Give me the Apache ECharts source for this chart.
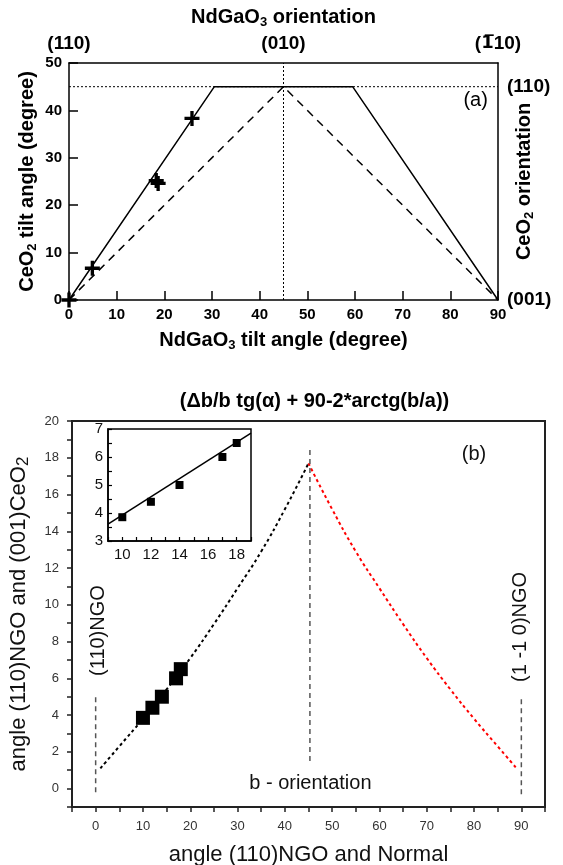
<!DOCTYPE html>
<html lang="en">
<head>
<meta charset="utf-8">
<title>NdGaO3 / CeO2 tilt angles</title>
<script src="https://cdn.jsdelivr.net/npm/echarts@6/dist/echarts.min.js"></script>
</head>
<body style="margin:0; background:#fff;">
<div id="main" style="width:563px; height:865px;"></div>
<script type="text/javascript">
// ---- panel (a) ----
const tiltSolid = [[0, 0], [30.5, 45], [59.5, 45], [90, 0]];
const tiltDashed = [[0, 0], [45, 45], [90, 0]];
const tiltLevel = [[0, 45], [90, 45]];
const tiltMid = [[45, 0], [45, 50]];
const crossX = [0, 4.9, 18.3, 18.7, 25.8];
const crossY = [0, 6.7, 25.2, 24.6, 38.3];
const topLabels = {0: '(110)', 45: '(010)', 90: '({bar|1\u0305}10)'};
const rightLabels = {0: '(001)', 45: '(110)'};

// ---- panel (b) ----
const leftX = [1, 5, 10, 15, 20, 25, 30, 35, 40, 45];
const leftY = [1.1, 2.3, 3.8, 5.4, 7.1, 8.95, 10.9, 12.9, 15.2, 17.7];
const rightX = [45, 50, 55, 60, 65, 70, 75, 80, 85, 89];
const rightY = [17.7, 15.2, 12.9, 10.9, 8.95, 7.1, 5.4, 3.8, 2.3, 1.1];
const sampleX = [10, 12, 14, 17, 18];
const sampleY = [3.85, 4.4, 5.0, 6.0, 6.5];
const fitLine = [[9, 3.6], [19, 6.85]];
const guides = [
    [[0, -0.2], [0, 5]],
    [[45.3, 1.5], [45.3, 18.6]],
    [[90, -0.3], [90, 4.9]]
];
const notesB = [
    {x: 0.5, y: 8.6, text: '(110)NGO', rotate: 90},
    {x: 89.9, y: 8.8, text: '(1 -1 0)NGO', rotate: 90},
    {x: 45.4, y: 0.3, text: 'b - orientation', rotate: 0},
    {x: 80, y: 18.2, text: '(b)', rotate: 0}
];

const AR = '"Liberation Sans", Arial, sans-serif';
const pair = (xs, ys) => xs.map((x, i) => [x, ys[i]]);
const plus = 'path://M3.5,0H5.5V3.5H9V5.5H5.5V9H3.5V5.5H0V3.5H3.5Z';

function line(data, xi, yi, color, width, type, smooth) {
    return {
        type: 'line', xAxisIndex: xi, yAxisIndex: yi, data: data,
        symbol: 'none', smooth: smooth || false, silent: true,
        lineStyle: {color: color, width: width, type: type}
    };
}

const boldName = {fontFamily: AR, fontWeight: 'bold', fontSize: 20, color: '#000', lineHeight: 24,
    rich: {s: {fontFamily: AR, fontWeight: 'bold', fontSize: 13, verticalAlign: 'bottom', lineHeight: 12, color: '#000'}}};
const boldTick = {fontFamily: AR, fontWeight: 'bold', fontSize: 15, color: '#000'};
const blkLine = {onZero: false, lineStyle: {color: '#000', width: 1.5}};
const solidItem = {color: '#000', opacity: 1};

let myChart = echarts.init(document.getElementById('main'));
const option = {
    animation: false,
    backgroundColor: '#fff',
    grid: [
        {left: 69, top: 63, width: 429, height: 237, outerBoundsMode: 'none'},
        {left: 72, top: 421, width: 473, height: 386, show: true, borderColor: '#222', borderWidth: 2, outerBoundsMode: 'none'},
        {left: 108, top: 429, width: 143, height: 112, show: true, borderColor: '#000', borderWidth: 1.5, outerBoundsMode: 'none'}
    ],
    xAxis: [
        {gridIndex: 0, type: 'value', min: 0, max: 90, interval: 10, position: 'bottom',
            axisLine: blkLine, axisTick: {inside: true, length: 9, lineStyle: {color: '#000', width: 1.5}},
            axisLabel: Object.assign({margin: 7}, boldTick), splitLine: {show: false},
            name: 'NdGaO{s|3} tilt angle (degree)', nameLocation: 'middle', nameGap: 28,
            nameMoveOverlap: false, nameTextStyle: boldName},
        {gridIndex: 0, type: 'value', min: 0, max: 90, interval: 45, position: 'top',
            axisLine: blkLine, axisTick: {show: false}, splitLine: {show: false},
            axisLabel: Object.assign({margin: 10, formatter: v => topLabels[v] || ''}, boldTick, {fontSize: 19,
                rich: {bar: {fontFamily: '"DejaVu Sans"', fontWeight: 'bold', fontSize: 18, color: '#000'}}}),
            name: 'NdGaO{s|3} orientation', nameLocation: 'middle', nameGap: 34,
            nameMoveOverlap: false, nameTextStyle: boldName},
        {gridIndex: 1, type: 'value', min: -5, max: 95, interval: 5,
            axisLine: {onZero: false, lineStyle: {color: '#222', width: 2}},
            axisTick: {length: 5, lineStyle: {color: '#222', width: 1.5}}, splitLine: {show: false},
            axisLabel: {fontFamily: AR, fontSize: 13, color: '#333', margin: 13,
                formatter: v => (v >= 0 && v % 10 === 0) ? String(v) : ''},
            name: 'angle (110)NGO and Normal', nameLocation: 'middle', nameGap: 37, nameMoveOverlap: false,
            nameTextStyle: {fontFamily: AR, fontSize: 22, color: '#111'}},
        {gridIndex: 1, type: 'value', min: -5, max: 95, position: 'top',
            axisLine: {show: false}, axisTick: {show: false}, axisLabel: {show: false}, splitLine: {show: false},
            name: '(\u0394b/b tg(\u03b1) + 90-2*arctg(b/a))', nameLocation: 'middle', nameGap: 10, nameMoveOverlap: false,
            nameTextStyle: {fontFamily: AR, fontWeight: 'bold', fontSize: 20, color: '#000', padding: [0, 0, 0, 12]}},
        {gridIndex: 2, type: 'value', min: 9, max: 19, interval: 1,
            axisLine: blkLine, axisTick: {inside: true, length: 4, lineStyle: {color: '#000', width: 1.2}},
            splitLine: {show: false},
            axisLabel: {fontFamily: AR, fontSize: 15, color: '#111', margin: 6,
                formatter: v => (v % 2 === 0) ? String(v) : ''}}
    ],
    yAxis: [
        {gridIndex: 0, type: 'value', min: 0, max: 50, interval: 10, position: 'left',
            axisLine: blkLine, axisTick: {inside: true, length: 9, lineStyle: {color: '#000', width: 1.5}},
            axisLabel: Object.assign({margin: 7}, boldTick), splitLine: {show: false},
            name: 'CeO{s|2} tilt angle (degree)', nameLocation: 'middle', nameGap: 30,
            nameMoveOverlap: false, nameTextStyle: boldName},
        {gridIndex: 0, type: 'value', min: 0, max: 50, interval: 45, position: 'right',
            axisLine: blkLine, axisTick: {show: false}, splitLine: {show: false},
            axisLabel: Object.assign({margin: 9, formatter: v => rightLabels[v] || ''}, boldTick, {fontSize: 19}),
            name: 'CeO{s|2} orientation', nameLocation: 'middle', nameGap: 14,
            nameMoveOverlap: false, nameTextStyle: boldName},
        {gridIndex: 1, type: 'value', min: -1, max: 20, interval: 1,
            axisLine: {onZero: false, lineStyle: {color: '#222', width: 2}},
            axisTick: {length: 5, lineStyle: {color: '#222', width: 1.5}}, splitLine: {show: false},
            axisLabel: {fontFamily: AR, fontSize: 13, color: '#333', margin: 13,
                formatter: v => (v >= 0 && v % 2 === 0) ? String(v) : ''},
            name: 'angle (110)NGO and (001)CeO{s|2}', nameLocation: 'middle', nameGap: 40, nameMoveOverlap: false,
            nameTextStyle: {fontFamily: AR, fontSize: 22, color: '#111', lineHeight: 26,
                rich: {s: {fontFamily: AR, fontSize: 17, color: '#111', verticalAlign: 'bottom', lineHeight: 20}}}},
        {gridIndex: 2, type: 'value', min: 3, max: 7, interval: 0.5,
            axisLine: blkLine, axisTick: {inside: true, length: 4, lineStyle: {color: '#000', width: 1.2}},
            splitLine: {show: false},
            axisLabel: {fontFamily: AR, fontSize: 15, color: '#111', margin: 5,
                formatter: v => Number.isInteger(v) ? String(v) : ''}}
    ],
    series: [
        line(tiltLevel, 0, 0, '#000', 1, [2, 2]),
        line(tiltMid, 0, 0, '#000', 1, [2, 2]),
        line(tiltDashed, 0, 0, '#000', 1.5, [8, 6]),
        line(tiltSolid, 0, 0, '#000', 1.5, 'solid'),
        {type: 'scatter', xAxisIndex: 0, yAxisIndex: 0, data: pair(crossX, crossY),
            symbol: plus, symbolSize: 15, itemStyle: solidItem, silent: true, z: 5},
        {type: 'scatter', xAxisIndex: 0, yAxisIndex: 0, data: [[85.3, 42.1]], symbolSize: 1,
            itemStyle: {color: 'rgba(0,0,0,0)', opacity: 1}, silent: true,
            label: {show: true, position: 'inside', formatter: '(a)', fontFamily: AR, fontSize: 20, color: '#000'}},

        line(pair(leftX, leftY), 2, 2, '#000', 2, [3, 3], true),
        line(pair(rightX, rightY), 2, 2, '#ff0000', 2, [3, 3], true),
        ...guides.map(g => line(g, 2, 2, '#555', 1.5, [5, 4])),
        {type: 'scatter', xAxisIndex: 2, yAxisIndex: 2, data: pair(sampleX, sampleY),
            symbol: 'rect', symbolSize: 14, itemStyle: solidItem, silent: true, z: 5},
        {type: 'scatter', xAxisIndex: 2, yAxisIndex: 2, symbolSize: 1,
            itemStyle: {color: 'rgba(0,0,0,0)', opacity: 1}, silent: true,
            data: notesB.map(n => ({value: [n.x, n.y], label: {formatter: n.text, rotate: n.rotate}})),
            label: {show: true, position: 'inside', fontFamily: AR, fontSize: 20, color: '#111'}},

        line(fitLine, 4, 3, '#000', 1.5, 'solid'),
        {type: 'scatter', xAxisIndex: 4, yAxisIndex: 3, data: pair(sampleX, sampleY),
            symbol: 'rect', symbolSize: 8, itemStyle: solidItem, silent: true, z: 5}
    ]
};
myChart.setOption(option);
</script>
</body>
</html>
